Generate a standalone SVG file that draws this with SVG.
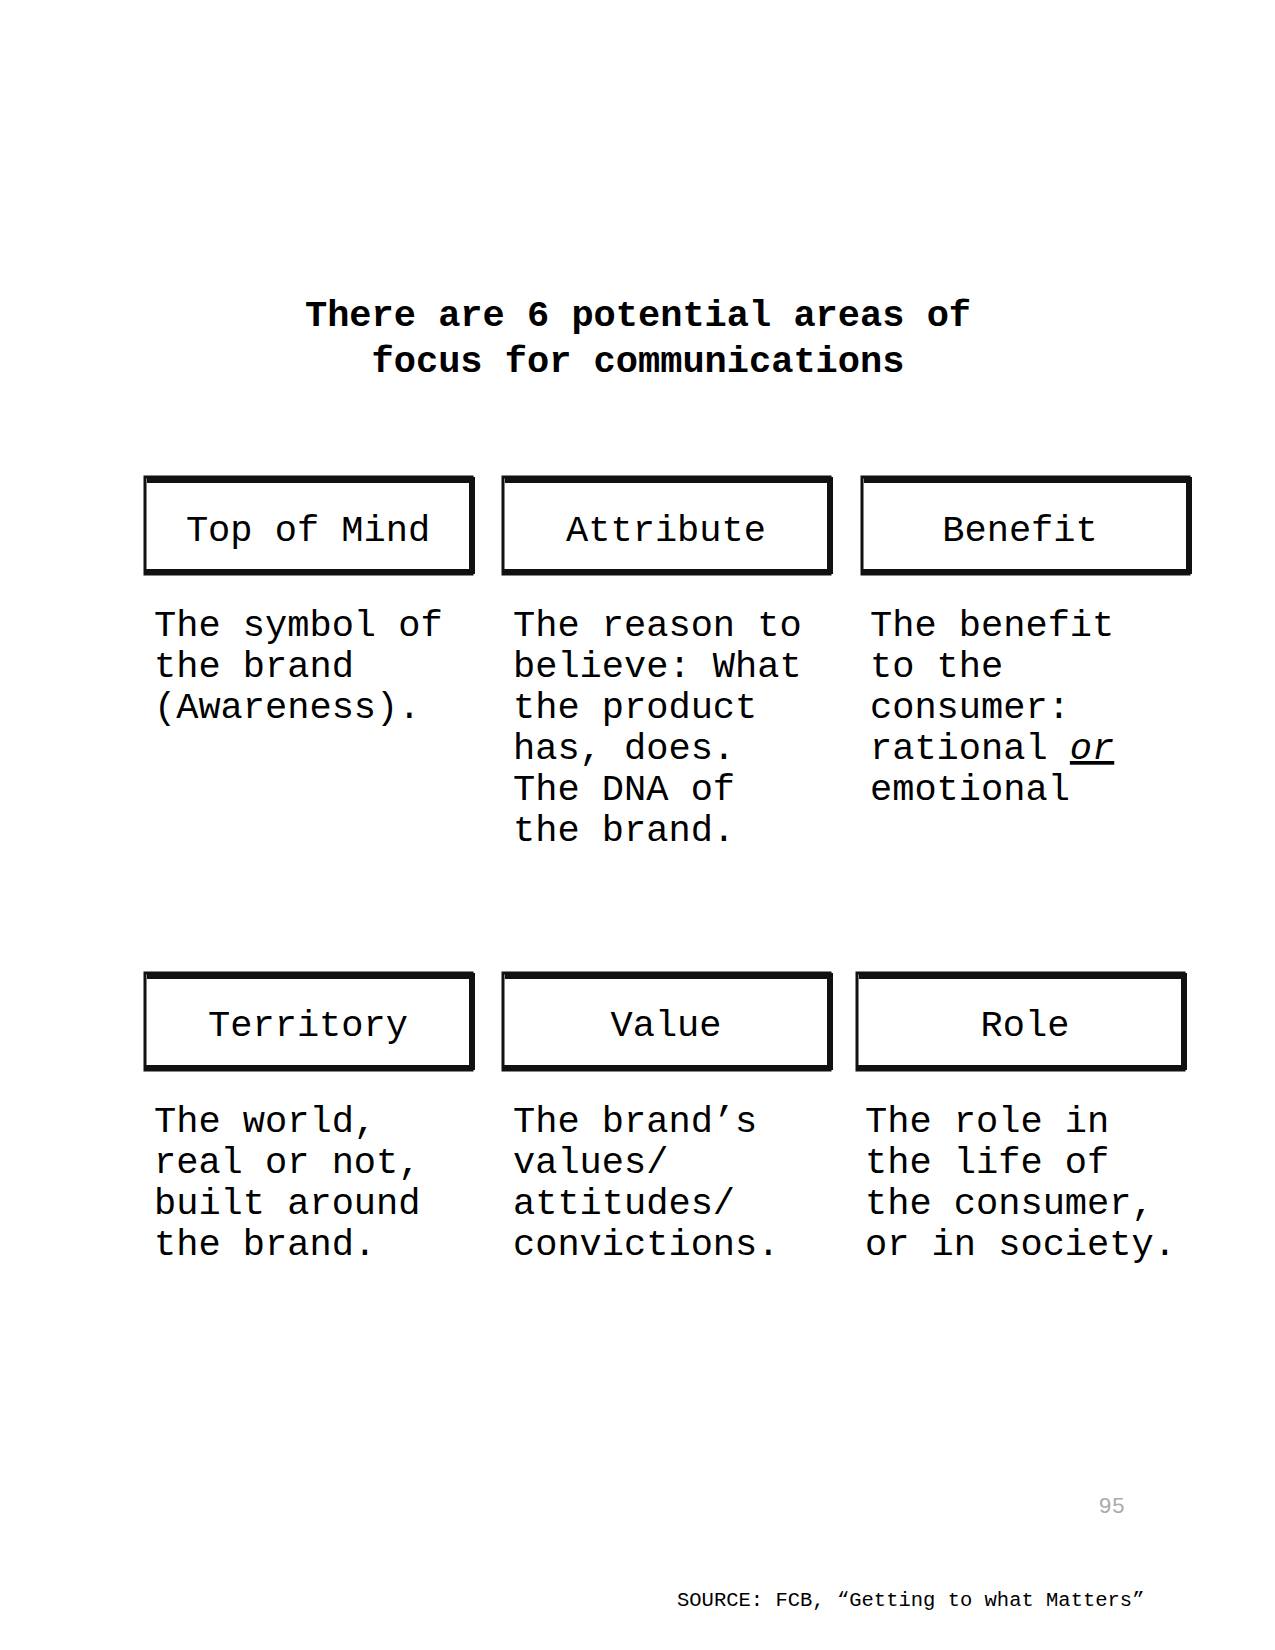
<svg xmlns="http://www.w3.org/2000/svg" width="1275" height="1650" viewBox="0 0 1275 1650">
<style>
text{font-family:"Liberation Mono","Courier New",monospace;fill:#000}
.t{font-size:37px;font-weight:bold;text-anchor:middle}
.l{font-size:37px;text-anchor:middle}
.b{font-size:37px}
.f{fill:none;stroke:#111;stroke-width:3}
.h{stroke:#111;stroke-width:6;fill:none}
</style>
<rect width="1275" height="1650" fill="#fff"/>
<text class="t" x="638" y="326">There are 6 potential areas of</text>
<text class="t" x="638" y="372">focus for communications</text>
<defs>
<g id="box"><rect class="f" x="0" y="0" width="327" height="97"/><path class="h" d="M2 3H327V97"/><path d="M0 94H327" stroke="#111" stroke-width="4"/></g>
</defs>
<g id="n1"><use href="#box" x="145" y="477"/><text class="l" x="308" y="541">Top of Mind</text>
<text class="b" x="154" y="636">The symbol of</text><text class="b" x="154" y="677">the brand</text><text class="b" x="154" y="718">(Awareness).</text></g>
<g id="n2"><use href="#box" x="503" y="477"/><text class="l" x="666" y="541">Attribute</text>
<text class="b" x="513" y="636">The reason to</text><text class="b" x="513" y="677">believe: What</text><text class="b" x="513" y="718">the product</text><text class="b" x="513" y="759">has, does.</text><text class="b" x="513" y="800">The DNA of</text><text class="b" x="513" y="841">the brand.</text></g>
<g id="n3"><use href="#box" x="862" y="477"/><text class="l" x="1020" y="541">Benefit</text>
<text class="b" x="870" y="636">The benefit</text><text class="b" x="870" y="677">to the</text><text class="b" x="870" y="718">consumer:</text><text class="b" x="870" y="759">rational <tspan font-style="italic" text-decoration="underline">or</tspan></text><text class="b" x="870" y="800">emotional</text></g>
<g id="n4"><use href="#box" x="145" y="973"/><text class="l" x="308" y="1036">Territory</text>
<text class="b" x="154" y="1132">The world,</text><text class="b" x="154" y="1173">real or not,</text><text class="b" x="154" y="1214">built around</text><text class="b" x="154" y="1255">the brand.</text></g>
<g id="n5"><use href="#box" x="503" y="973"/><text class="l" x="666" y="1036">Value</text>
<text class="b" x="513" y="1132">The brand’s</text><text class="b" x="513" y="1173">values/</text><text class="b" x="513" y="1214">attitudes/</text><text class="b" x="513" y="1255">convictions.</text></g>
<g id="n6"><use href="#box" x="857" y="973"/><text class="l" x="1025" y="1036">Role</text>
<text class="b" x="865" y="1132">The role in</text><text class="b" x="865" y="1173">the life of</text><text class="b" x="865" y="1214">the consumer,</text><text class="b" x="865" y="1255">or in society.</text></g>
<g id="connectors"/>
<text x="1125" y="1513" font-size="22" style="fill:#aaa;text-anchor:end">95</text>
<text x="677" y="1606" font-size="20.5">SOURCE: FCB, “Getting to what Matters”</text>
</svg>
